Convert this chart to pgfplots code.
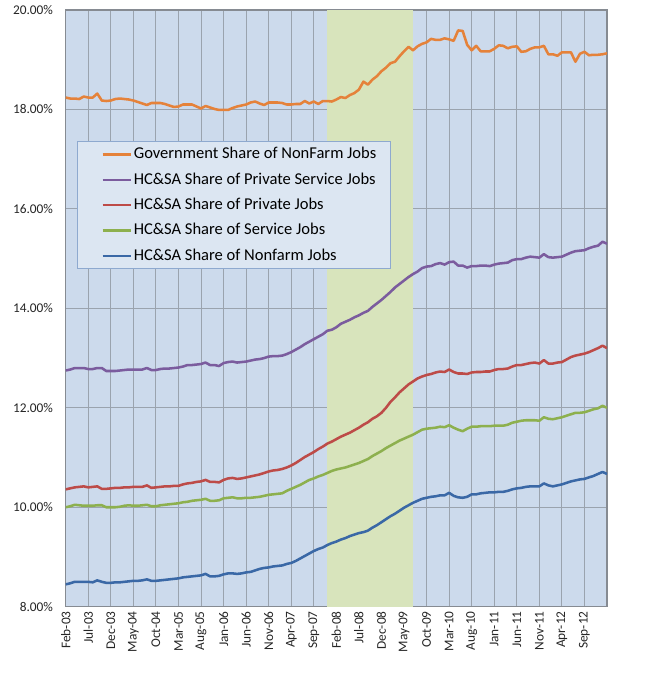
\documentclass[border=0pt]{standalone}
\usepackage{fontspec}
\setmainfont{Carlito}
\usepackage{pgfplots}
\usepackage{pgfplotstable}
\pgfplotsset{compat=1.18}
\definecolor{plotbg}{HTML}{CCDAEC}
\definecolor{recess}{HTML}{D8E4BC}
\definecolor{gridc}{HTML}{9AA3AE}
\definecolor{axisc}{HTML}{868B92}
\definecolor{legfill}{HTML}{DCE6F2}
\definecolor{legdraw}{HTML}{8EA9CF}
\definecolor{cOrange}{HTML}{E5823A}
\definecolor{cPurple}{HTML}{7B5C9E}
\definecolor{cRed}{HTML}{BD4B48}
\definecolor{cGreen}{HTML}{8DB04E}
\definecolor{cBlue}{HTML}{3A68A6}
\definecolor{txt}{HTML}{262626}

\pgfplotstableread{
idx gov psvc priv svc nf
0 18.24 12.75 10.36 10.00 8.45
1 18.22 12.77 10.38 10.02 8.47
2 18.22 12.80 10.40 10.05 8.50
3 18.21 12.80 10.41 10.04 8.50
4 18.26 12.80 10.42 10.03 8.50
5 18.24 12.78 10.40 10.03 8.50
6 18.24 12.78 10.41 10.03 8.49
7 18.32 12.80 10.42 10.04 8.53
8 18.18 12.80 10.37 10.04 8.50
9 18.17 12.74 10.37 10.00 8.48
10 18.18 12.74 10.38 10.00 8.48
11 18.21 12.74 10.39 10.00 8.49
12 18.22 12.75 10.39 10.01 8.49
13 18.21 12.76 10.40 10.03 8.50
14 18.20 12.77 10.40 10.04 8.51
15 18.18 12.77 10.41 10.03 8.52
16 18.15 12.77 10.41 10.03 8.52
17 18.12 12.77 10.41 10.04 8.53
18 18.09 12.80 10.44 10.05 8.55
19 18.13 12.76 10.39 10.02 8.52
20 18.13 12.76 10.40 10.02 8.52
21 18.13 12.78 10.41 10.04 8.53
22 18.11 12.79 10.42 10.05 8.54
23 18.08 12.79 10.42 10.06 8.55
24 18.05 12.80 10.43 10.07 8.56
25 18.06 12.81 10.43 10.08 8.57
26 18.10 12.83 10.46 10.10 8.59
27 18.10 12.86 10.48 10.11 8.60
28 18.10 12.86 10.49 10.13 8.61
29 18.06 12.87 10.51 10.14 8.62
30 18.02 12.88 10.52 10.15 8.63
31 18.07 12.91 10.55 10.17 8.66
32 18.04 12.86 10.51 10.13 8.61
33 18.01 12.86 10.51 10.13 8.61
34 17.99 12.84 10.50 10.14 8.62
35 17.99 12.90 10.55 10.18 8.65
36 17.99 12.92 10.58 10.19 8.67
37 18.03 12.93 10.59 10.20 8.67
38 18.06 12.91 10.57 10.18 8.66
39 18.08 12.92 10.58 10.18 8.67
40 18.10 12.93 10.60 10.19 8.69
41 18.14 12.95 10.62 10.19 8.70
42 18.16 12.97 10.64 10.20 8.73
43 18.12 12.98 10.66 10.21 8.76
44 18.09 13.00 10.69 10.23 8.78
45 18.14 13.03 10.72 10.25 8.79
46 18.14 13.04 10.74 10.26 8.81
47 18.14 13.04 10.75 10.27 8.82
48 18.13 13.05 10.77 10.28 8.83
49 18.10 13.08 10.80 10.33 8.86
50 18.10 13.12 10.84 10.37 8.88
51 18.11 13.17 10.89 10.41 8.92
52 18.11 13.22 10.95 10.45 8.97
53 18.17 13.28 11.01 10.50 9.02
54 18.12 13.33 11.06 10.55 9.07
55 18.16 13.38 11.11 10.58 9.12
56 18.11 13.43 11.17 10.62 9.16
57 18.17 13.48 11.22 10.65 9.19
58 18.17 13.55 11.28 10.69 9.24
59 18.16 13.57 11.32 10.73 9.28
60 18.20 13.62 11.37 10.76 9.31
61 18.25 13.69 11.42 10.78 9.35
62 18.23 13.73 11.46 10.80 9.38
63 18.29 13.77 11.50 10.83 9.42
64 18.33 13.82 11.55 10.86 9.45
65 18.40 13.86 11.60 10.89 9.48
66 18.56 13.91 11.66 10.93 9.50
67 18.50 13.95 11.71 10.97 9.53
68 18.60 14.03 11.78 11.03 9.59
69 18.67 14.10 11.83 11.08 9.64
70 18.77 14.17 11.90 11.13 9.70
71 18.84 14.25 12.00 11.19 9.76
72 18.93 14.33 12.12 11.24 9.82
73 18.96 14.42 12.21 11.29 9.87
74 19.07 14.49 12.31 11.34 9.93
75 19.17 14.56 12.39 11.38 9.99
76 19.26 14.63 12.47 11.42 10.04
77 19.19 14.69 12.53 11.46 10.09
78 19.27 14.74 12.59 11.51 10.13
79 19.32 14.81 12.63 11.56 10.17
80 19.35 14.84 12.66 11.58 10.19
81 19.42 14.85 12.68 11.59 10.21
82 19.40 14.89 12.71 11.60 10.22
83 19.40 14.91 12.73 11.62 10.24
84 19.43 14.88 12.72 11.61 10.24
85 19.41 14.93 12.77 11.65 10.29
86 19.38 14.94 12.72 11.60 10.23
87 19.59 14.86 12.69 11.56 10.20
88 19.58 14.86 12.69 11.53 10.19
89 19.30 14.82 12.68 11.58 10.21
90 19.19 14.85 12.71 11.62 10.26
91 19.28 14.85 12.72 11.62 10.26
92 19.17 14.86 12.72 11.63 10.28
93 19.17 14.86 12.73 11.63 10.29
94 19.17 14.85 12.73 11.63 10.30
95 19.22 14.88 12.76 11.64 10.30
96 19.29 14.90 12.78 11.64 10.31
97 19.28 14.91 12.78 11.64 10.31
98 19.23 14.92 12.79 11.66 10.33
99 19.26 14.97 12.83 11.70 10.36
100 19.27 14.99 12.86 11.72 10.38
101 19.16 14.99 12.86 11.74 10.39
102 19.17 15.02 12.88 11.75 10.41
103 19.22 15.04 12.90 11.75 10.42
104 19.25 15.03 12.91 11.75 10.42
105 19.25 15.02 12.89 11.74 10.42
106 19.28 15.09 12.96 11.81 10.48
107 19.11 15.03 12.89 11.78 10.44
108 19.11 15.02 12.89 11.77 10.42
109 19.08 15.03 12.91 11.79 10.44
110 19.15 15.04 12.92 11.81 10.46
111 19.15 15.08 12.97 11.84 10.49
112 19.15 15.12 13.02 11.87 10.52
113 18.96 15.15 13.05 11.90 10.54
114 19.12 15.16 13.07 11.90 10.56
115 19.16 15.17 13.09 11.91 10.57
116 19.09 15.21 13.12 11.94 10.60
117 19.10 15.24 13.16 11.97 10.63
118 19.10 15.26 13.20 11.99 10.67
119 19.11 15.34 13.25 12.04 10.71
120 19.13 15.30 13.20 12.00 10.67
}\datatable

\begin{document}
\begin{tikzpicture}
\fill[white] (0pt,0pt) rectangle (487.5pt,505.5pt);
\begin{axis}[
  at={(49.275pt,50.475pt)}, anchor=south west,
  scale only axis, width=405.98pt, height=447.5pt,
  xmin=0, xmax=120, ymin=8, ymax=20,
  axis background/.style={fill=plotbg},
  axis line style={draw=axisc, line width=0.8pt},
  xtick={0,5,...,115},
  xticklabels={Feb-03,Jul-03,Dec-03,May-04,Oct-04,Mar-05,Aug-05,Jan-06,Jun-06,Nov-06,Apr-07,Sep-07,Feb-08,Jul-08,Dec-08,May-09,Oct-09,Mar-10,Aug-10,Jan-11,Jun-11,Nov-11,Apr-12,Sep-12},
  ytick={8,10,...,20},
  yticklabel={\pgfmathprintnumber[fixed,fixed zerofill,precision=2]{\tick}\%},
  /pgf/number format/assume math mode=true,
  tick label style={font=\fontsize{10}{12}\selectfont, text=txt},
  xticklabel style={rotate=90, anchor=east},
  yticklabel style={xshift=-6pt},
  major tick length=0pt,
  grid=major,
  grid style={draw=gridc, line width=0.75pt},
  legend cell align=left,
  legend image code/.code={\path[draw=none,fill=none] (0pt,-1pt) rectangle (0pt,1pt); \draw[#1] (8.25pt,0pt) -- (29.25pt,0pt);},
  legend style={at={(0.0209,0.7805)}, anchor=north west, draw=legdraw, line width=0.8pt, fill=legfill,
    font=\fontsize{12.4}{14.8}\selectfont, inner xsep=10.5pt, inner ysep=3.5pt, row sep=6.5pt, column sep=1.5pt,
    nodes={inner sep=0pt, text height=9.5pt, text depth=3pt}},
  every axis plot/.append style={line width=1.9pt, line join=round, no markers},
]
\addplot[fill=recess, draw=none, line width=0pt, forget plot] coordinates {(58,8) (58,20) (77,20) (77,8)} -- cycle;
\addplot[cOrange] table[x=idx, y=gov] {\datatable};
\addlegendentry{Government Share of NonFarm Jobs}
\addplot[cPurple] table[x=idx, y=psvc] {\datatable};
\addlegendentry{HC\&SA Share of Private Service Jobs}
\addplot[cRed] table[x=idx, y=priv] {\datatable};
\addlegendentry{HC\&SA Share of Private Jobs}
\addplot[cGreen] table[x=idx, y=svc] {\datatable};
\addlegendentry{HC\&SA Share of Service Jobs}
\addplot[cBlue] table[x=idx, y=nf] {\datatable};
\addlegendentry{HC\&SA Share of Nonfarm Jobs}
\end{axis}
\end{tikzpicture}
\end{document}
